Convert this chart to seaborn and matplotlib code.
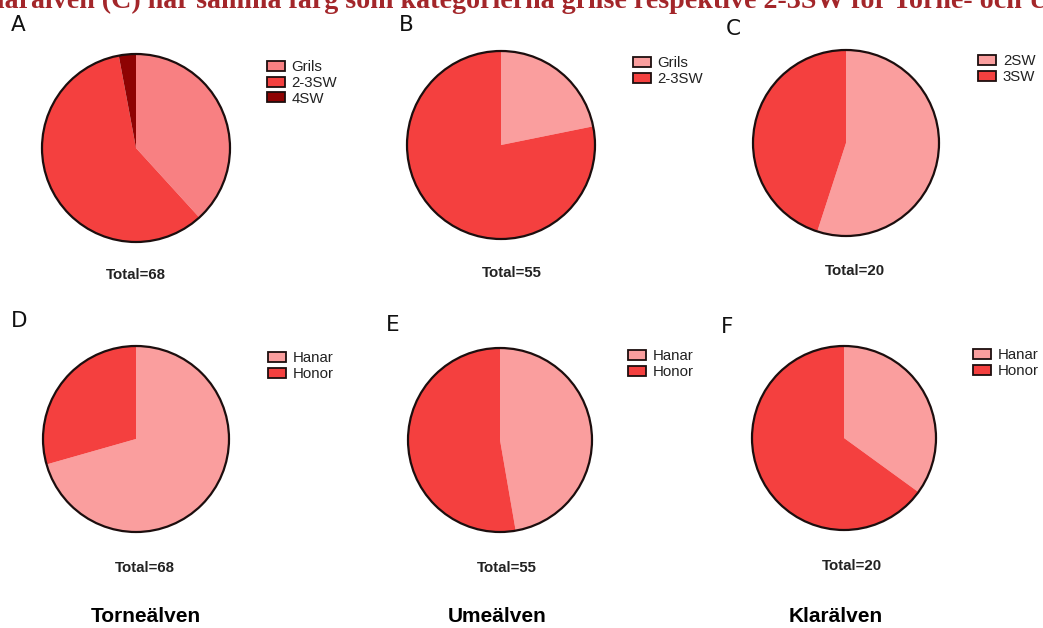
import matplotlib
matplotlib.use("Agg")
import matplotlib.pyplot as plt
from matplotlib.patches import Circle, Patch
import seaborn as sns

# Catch composition (age classes) and sex ratio of salmon per river
panel_letters = ["A", "B", "C", "D", "E", "F"]
rivers = ["Torneälven", "Umeälven", "Klarälven"]

torne_age_labels = ["Grils", "2-3SW", "4SW"]
torne_age_counts = [26, 40, 2]
ume_age_labels = ["Grils", "2-3SW"]
ume_age_counts = [12, 43]
klar_age_labels = ["2SW", "3SW"]
klar_age_counts = [11, 9]

sex_labels = ["Hanar", "Honor"]
torne_sex_counts = [48, 20]
ume_sex_counts = [26, 29]
klar_sex_counts = [7, 13]

note_text = ("Klarälven (C) har samma färg som kategorierna grilse respektive "
             "2-3SW för Torne- och Umeälven.")

# Colours
light = "#FA9E9E"
salmon = "#F88082"
red = "#F4403F"
dark = "#8E0303"

sns.set_theme(style="white")
plt.rcParams["font.family"] = ["Liberation Sans", "DejaVu Sans"]

W, H = 1043, 628
fig = plt.figure(figsize=(W / 100, H / 100), dpi=100)
fig.patch.set_facecolor("white")


def fx(x):
    return x / W


def fy(y):
    return 1 - y / H


panels = [
    # counts, labels, colours, centre(px), radius, legend anchor, total pos, letter pos
    (torne_age_counts, torne_age_labels, [salmon, red, dark], (136, 148), 94, (267, 60), (136, 279), (11, 31)),
    (ume_age_counts, ume_age_labels, [light, red], (501, 145), 94, (633, 56), (512, 277), (399, 31)),
    (klar_age_counts, klar_age_labels, [light, red], (846, 143), 93, (978, 54), (855, 275), (726, 35)),
    (torne_sex_counts, sex_labels, [light, red], (136, 439), 93, (268, 351), (145, 572), (11, 327)),
    (ume_sex_counts, sex_labels, [light, red], (500, 440), 92, (628, 349), (507, 572), (386, 331)),
    (klar_sex_counts, sex_labels, [light, red], (844, 438), 92, (973, 348), (852, 570), (721, 333)),
]

for letter, (counts, labels, cols, (cx, cy), r, (lx, ly), (tx, ty), (ax_, ay_)) in zip(panel_letters, panels):
    ax = fig.add_axes([fx(cx - r), fy(cy + r), 2 * r / W, 2 * r / H])
    ax.pie(counts, colors=cols, startangle=90, counterclock=False,
           wedgeprops=dict(linewidth=0, antialiased=True))
    ax.add_patch(Circle((0, 0), 1, fill=False, lw=1.6, ec="#1c0e0e", clip_on=False))
    ax.set_xlim(-1, 1)
    ax.set_ylim(-1, 1)
    ax.set_aspect("auto")
    ax.axis("off")

    handles = [Patch(facecolor=c, edgecolor="#1c0e0e", linewidth=1.3) for c in cols]
    fig.legend(handles, labels, loc="upper left", bbox_to_anchor=(fx(lx), fy(ly)),
               bbox_transform=fig.transFigure, frameon=False, borderpad=0,
               borderaxespad=0, fontsize=10.8, handlelength=1.2, handleheight=0.65,
               handletextpad=0.45, labelspacing=0.12, labelcolor="#222222")

    fig.text(fx(tx), fy(ty), f"Total={sum(counts)}", ha="center", va="baseline",
             fontsize=10.8, fontweight="bold", color="#222222")
    fig.text(fx(ax_), fy(ay_), letter, ha="left", va="baseline", fontsize=15.5,
             family=["Liberation Sans Narrow", "DejaVu Sans"], color="#111111")

for name, x in zip(rivers, [146, 497, 836]):
    fig.text(fx(x), fy(622), name, ha="center", va="baseline", fontsize=15,
             fontweight="bold", color="black")

# Caption line running off the top edge: size it so "(C) ... och" spans its width
cap_font = dict(fontweight="bold", family=["Liberation Serif", "DejaVu Serif"])
renderer = fig.canvas.get_renderer()
base_fs = 17.0
probe_a = fig.text(0, 0, "Klarälven ", fontsize=base_fs, **cap_font)
probe_b = fig.text(0, 0, note_text.split(" Ume")[0], fontsize=base_fs, **cap_font)
w_pre = probe_a.get_window_extent(renderer).width
w_seg = probe_b.get_window_extent(renderer).width
probe_a.remove()
probe_b.remove()
scale = 921.0 / (w_seg - w_pre)
cap_x = 102 - w_pre * scale
fig.text(fx(cap_x), fy(8), note_text, ha="left", va="baseline", fontsize=base_fs * scale,
         color="#A3262A", **cap_font)

fig.savefig("out.png", dpi=100)
